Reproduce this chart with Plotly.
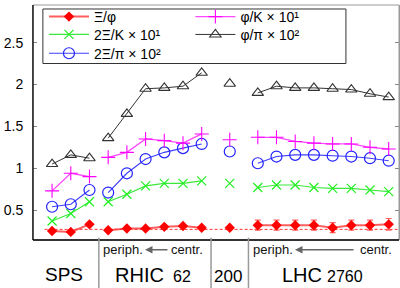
import plotly.graph_objects as go

# ---- data ----
sps_x = [0, 1, 2]
rhic62_x = [3, 4, 5, 6, 7, 8]
rhic200_x = [9.5]
lhc_x = [11, 12, 13, 14, 15, 16, 17, 18]

xi_phi_sps = [0.25, 0.24, 0.33]
xi_phi_r62 = [0.26, 0.28, 0.28, 0.30, 0.31, 0.29]
xi_phi_r200 = [0.29]
xi_phi_lhc = [0.32, 0.32, 0.32, 0.32, 0.29, 0.32, 0.32, 0.33]
xi_phi_lhc_err = [0.06, 0.06, 0.06, 0.06, 0.06, 0.06, 0.06, 0.07]

xi_K_sps = [0.37, 0.46, 0.60]
xi_K_r62 = [0.60, 0.69, 0.79, 0.82, 0.82, 0.85]
xi_K_r200 = [0.82]
xi_K_lhc = [0.77, 0.80, 0.80, 0.77, 0.76, 0.76, 0.74, 0.72]

xi_pi_sps = [0.54, 0.57, 0.74]
xi_pi_r62 = [0.71, 0.94, 1.11, 1.19, 1.24, 1.29]
xi_pi_r200 = [1.20]
xi_pi_lhc = [1.06, 1.14, 1.16, 1.16, 1.15, 1.14, 1.12, 1.09]

phi_K_sps = [0.73, 0.94, 0.90]
phi_K_r62 = [1.13, 1.19, 1.35, 1.33, 1.30, 1.41]
phi_K_r200 = [1.34]
phi_K_lhc = [1.37, 1.37, 1.32, 1.30, 1.29, 1.29, 1.25, 1.23]

phi_pi_sps = [1.05, 1.16, 1.12]
phi_pi_r62 = [1.36, 1.65, 1.95, 1.96, 1.98, 2.14]
phi_pi_r200 = [2.01]
phi_pi_lhc = [1.90, 1.98, 1.96, 1.96, 1.95, 1.94, 1.89, 1.85]

ref_level = 0.27
separators = [2.5, 8.5, 10.5]
ytick_vals = [0.5, 1, 1.5, 2, 2.5]
ytick_text = ["0.5", "1", "1.5", "2", "2.5"]

FONT = "Liberation Sans, Arial, sans-serif"


def join(a, b, c, d):
    return a + [None] + b + [None] + c + [None] + d


X = join(sps_x, rhic62_x, rhic200_x, lhc_x)

fig = go.Figure()

# reference dashed line
fig.add_trace(go.Scatter(
    x=[sps_x[0] - 0.4, lhc_x[-1] + 0.5], y=[ref_level, ref_level], mode="lines",
    line=dict(color="rgba(255,0,0,0.8)", width=1, dash="3px,2px"),
    showlegend=False, hoverinfo="skip"))

err_full = ([0] * len(sps_x) + [None] + [0] * len(rhic62_x) + [None]
            + [0] * len(rhic200_x) + [None] + xi_phi_lhc_err)

# (name, y, line colour, line width, marker, legend id, legend x, legend row)
series = [
    ("Ξ/φ", join(xi_phi_sps, xi_phi_r62, xi_phi_r200, xi_phi_lhc), "rgba(255,40,40,0.75)", 2.0,
     dict(symbol="diamond", size=8, color="#ff0000", line=dict(width=0)), "legend", 0.03, 0),
    ("2Ξ/K × 10¹", join(xi_K_sps, xi_K_r62, xi_K_r200, xi_K_lhc), "rgba(40,230,40,0.9)", 1.2,
     dict(symbol="x-thin-open", size=9, color="#22ee22", line=dict(width=1.2, color="#22ee22")), "legend2", 0.03, 1),
    ("2Ξ/π × 10²", join(xi_pi_sps, xi_pi_r62, xi_pi_r200, xi_pi_lhc), "rgba(40,40,255,0.9)", 1.1,
     dict(symbol="circle-open", size=11, color="#2222ff", line=dict(width=1.2, color="#2222ff")), "legend3", 0.03, 2),
    ("φ/K × 10¹", join(phi_K_sps, phi_K_r62, phi_K_r200, phi_K_lhc), "rgba(255,40,255,0.85)", 1.3,
     dict(symbol="cross-thin-open", size=10, color="#ff00ff", line=dict(width=1.1, color="#ff00ff")), "legend4", 0.43, 0),
    ("φ/π × 10²", join(phi_pi_sps, phi_pi_r62, phi_pi_r200, phi_pi_lhc), "#333333", 1.0,
     dict(symbol="triangle-up-open", size=10, color="#333333", line=dict(width=1.1, color="#333333")), "legend5", 0.43, 1),
]

row_y = [0.949, 0.873, 0.793]
leg_layout = {}
for name, yv, lc, lw, mk, lg, lx, row in series:
    kw = {}
    if name == "Ξ/φ":
        kw["error_y"] = dict(type="data", array=err_full, color="rgba(255,60,60,0.8)", thickness=1.2, width=3)
    fig.add_trace(go.Scatter(
        x=X, y=yv, name=name, mode="lines+markers", connectgaps=False,
        line=dict(color=lc, width=lw), marker=mk, legend=lg, **kw))
    leg_layout[lg] = dict(x=lx, y=row_y[row], xanchor="left", yanchor="middle", orientation="v",
                          bgcolor="rgba(0,0,0,0)", borderwidth=0, font=dict(size=14, family=FONT),
                          itemwidth=40)

shapes = [
    dict(type="rect", xref="paper", yref="paper", x0=0, x1=1, y0=0, y1=1,
         line=dict(color="#999999", width=1), layer="below"),
    dict(type="line", xref="paper", yref="paper", x0=0, x1=0, y0=0, y1=1,
         line=dict(color="#000000", width=1.2)),
    dict(type="line", xref="paper", yref="paper", x0=0, x1=1, y0=0, y1=0,
         line=dict(color="#000000", width=1.5)),
    # legend frame
    dict(type="rect", xref="paper", yref="paper", x0=0.027, x1=0.855, y0=0.751, y1=0.983,
         line=dict(color="#333333", width=1), fillcolor="white", layer="below"),
]
for s in separators:
    shapes.append(dict(type="line", xref="x", yref="paper", x0=s, x1=s, y0=0.01, y1=-0.21,
                       line=dict(color="#999999", width=1.5)))

ann = []
small = dict(size=13, color="#111111", family=FONT)
YS = -0.042
ann += [
    dict(x=3.79, y=YS, text="periph.", font=small),
    dict(x=7.24, y=YS, text="centr.", font=small),
    dict(x=11.81, y=YS, text="periph.", font=small),
    dict(x=17.32, y=YS, text="centr.", font=small),
]
for head, tail in [(4.97, 6.25), (12.99, 16.2)]:
    ann.append(dict(x=head, y=YS, xref="x", yref="paper", ax=tail, axref="x", ay=0, ayref="pixel",
                    text="", showarrow=True, arrowhead=2, arrowsize=1, arrowwidth=1.5, arrowcolor="#666666"))
ann += [
    dict(x=0.64, y=-0.148, text="SPS", font=dict(size=19, color="#000", family=FONT)),
    dict(x=4.70, y=-0.148, text="RHIC", font=dict(size=20, color="#000", family=FONT)),
    dict(x=6.97, y=-0.156, text="62", font=dict(size=16, color="#000", family=FONT)),
    dict(x=9.41, y=-0.154, text="200", font=dict(size=17, color="#000", family=FONT)),
    dict(x=13.37, y=-0.150, text="LHC", font=dict(size=20, color="#000", family=FONT)),
    dict(x=15.66, y=-0.156, text="2760", font=dict(size=16, color="#000", family=FONT)),
]
for a in ann:
    a.setdefault("xref", "x")
    a.setdefault("yref", "paper")
    a.setdefault("showarrow", False)
    a.setdefault("yanchor", "middle")

fig.update_layout(
    width=400, height=288,
    margin=dict(l=33, r=1, t=3, b=48),
    paper_bgcolor="white", plot_bgcolor="white",
    font=dict(family=FONT, size=14, color="#000000"),
    showlegend=True,
    xaxis=dict(range=[-1.02, 18.55], showgrid=False, zeroline=False, showticklabels=False,
               ticks="", showline=False),
    yaxis=dict(range=[0.143, 2.95], showgrid=False, zeroline=False, tickmode="array",
               tickvals=ytick_vals, ticktext=ytick_text, ticks="inside", ticklen=4,
               tickcolor="#888888", mirror="ticks", showline=True, linecolor="#999999",
               ticklabelstandoff=6, tickfont=dict(size=14, family=FONT)),
    shapes=shapes, annotations=ann,
    **leg_layout,
)

fig.write_html("out.html", config={"displayModeBar": False},
               post_script="document.body.style.margin='0';document.body.style.overflow='hidden';")
